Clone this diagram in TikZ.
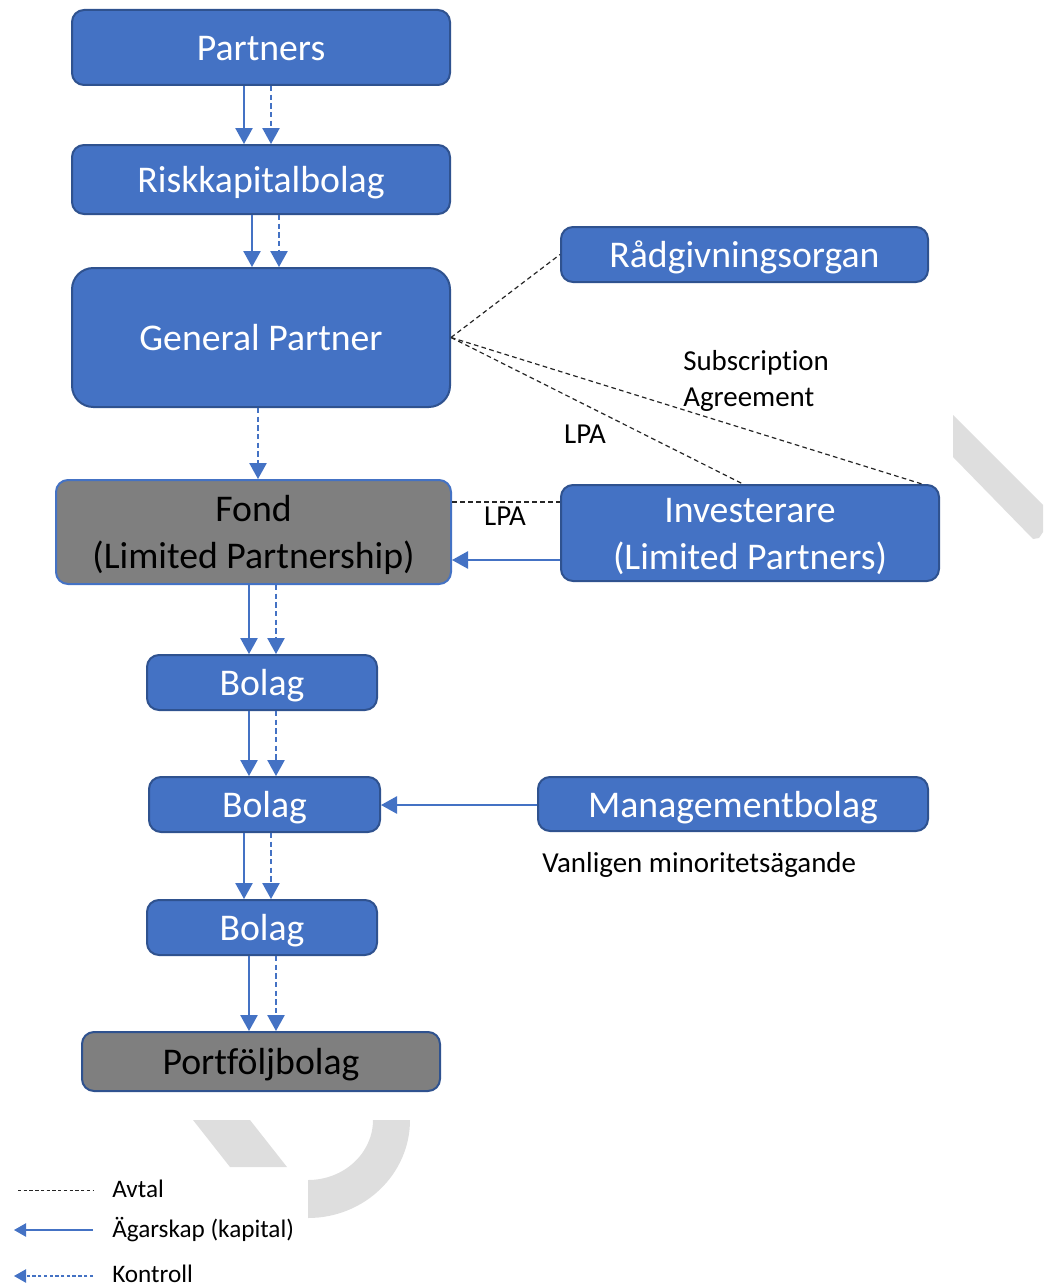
\documentclass[tikz,border=0pt]{standalone}
\usepackage{fontspec}
\setmainfont{Carlito}[Ligatures=NoCommon]
\usetikzlibrary{arrows.meta}
\definecolor{blu}{HTML}{4472C4}
\definecolor{bdr}{HTML}{2F528F}
\definecolor{gry}{HTML}{7F7F7F}
\definecolor{wm}{HTML}{DEDEDE}
\newcommand\bigf{\fontsize{28.3}{35}\selectfont}
\newcommand\lblf{\fontsize{21.7}{27}\selectfont}
\newcommand\legf{\fontsize{18.9}{22}\selectfont}
\newcommand\topln{\rule[-8pt]{0pt}{34.5pt}}
\newcommand\botln{\rule[-7pt]{0pt}{26pt}}
\tikzset{
  bx/.style={draw=bdr, fill=blu, line width=1.5pt, rounded corners=9pt, text=white, font=\bigf, align=center, inner sep=0pt},
  sl/.style={text height=27pt, text depth=7pt},
  gbx/.style={bx, fill=gry, text=black},
  own/.style={draw=blu, line width=1.1pt, -{Triangle[width=13pt,length=12pt]}},
  ctrl/.style={own, dash pattern=on 4pt off 2.5pt},
  avt/.style={draw=black!85, line width=0.9pt, dash pattern=on 3.5pt off 2.5pt},
  lbl/.style={font=\lblf, inner sep=0pt, anchor=west, align=left},
  leg/.style={font=\legf, inner sep=0pt, anchor=west}
}
\begin{document}
\begin{tikzpicture}[x=0.75pt,y=-0.75pt]
\useasboundingbox (0,0) rectangle (1043,1288);
% watermark shapes
\fill[wm] (953,415) -- (1043,505) -- (1043,532) -- (1039,538) -- (1033,539) -- (953,457) -- cycle;
\fill[wm] (193,1120) -- (250,1120) -- (287,1167) -- (230,1167) -- cycle;
\fill[wm] (410,1120) arc[start angle=0,end angle=-90,x radius=102,y radius=-98] -- (308,1180) arc[start angle=-90,end angle=0,x radius=65,y radius=-60] -- cycle;

% boxes
\node[bx, sl, minimum width=283.5pt, minimum height=56.25pt] (P) at (261,47.5) {Partners};
\node[bx, sl, minimum width=283.5pt, minimum height=51.75pt] (R) at (261,179.5) {Riskkapitalbolag};
\node[bx, sl, rounded corners=16pt, minimum width=283.5pt, minimum height=104.25pt] (GP) at (261,337.5) {General Partner};
\node[bx, sl, minimum width=275.25pt, minimum height=41.25pt] (RG) at (744.5,254.5) {Rådgivningsorgan};
\node[gbx, draw=blu, minimum width=296.25pt, minimum height=78pt] (F) at (253.5,532) {\topln Fond\\\botln(Limited Partnership)};
\node[bx, minimum width=283.5pt, minimum height=72pt] (I) at (750,533) {\topln Investerare\\\botln(Limited Partners)};
\node[bx, sl, minimum width=172.5pt, minimum height=41.25pt] (B1) at (262,682.5) {Bolag};
\node[bx, sl, minimum width=173.25pt, minimum height=41.25pt] (B2) at (264.5,804.5) {Bolag};
\node[bx, sl, minimum width=292.5pt, minimum height=40.5pt] (M) at (733,804) {Managementbolag};
\node[bx, sl, minimum width=172.5pt, minimum height=41.25pt] (B3) at (262,927.5) {Bolag};
\node[gbx, sl, minimum width=268.5pt, minimum height=44.25pt] (PF) at (261,1061.5) {Portföljbolag};

% columns and rows
\coordinate (ca) at (244,0);
\coordinate (cb) at (271,0);
\coordinate (cc) at (252,0);
\coordinate (cd) at (279,0);
\coordinate (ce) at (258,0);
\coordinate (cf) at (249,0);
\coordinate (cg) at (276,0);
\coordinate (c1) at (743,0);
\coordinate (c2) at (922,0);
\coordinate (r1) at (0,560);
\coordinate (r2) at (0,805);
\coordinate (r3) at (0,502);

% vertical arrows
\draw[own] (P.south -| ca) -- (R.north -| ca);
\draw[ctrl] (P.south -| cb) -- (R.north -| cb);
\draw[own] (R.south -| cc) -- (GP.north -| cc);
\draw[ctrl] (R.south -| cd) -- (GP.north -| cd);
\draw[ctrl] (GP.south -| ce) -- (F.north -| ce);
\draw[own] (F.south -| cf) -- (B1.north -| cf);
\draw[ctrl] (F.south -| cg) -- (B1.north -| cg);
\draw[own] (B1.south -| cf) -- (B2.north -| cf);
\draw[ctrl] (B1.south -| cg) -- (B2.north -| cg);
\draw[own] (B2.south -| ca) -- (B3.north -| ca);
\draw[ctrl] (B2.south -| cb) -- (B3.north -| cb);
\draw[own] (B3.south -| cf) -- (PF.north -| cf);
\draw[ctrl] (B3.south -| cg) -- (PF.north -| cg);

% horizontal arrows
\draw[own] (I.west |- r1) -- (F.east |- r1);
\draw[own] (M.west |- r2) -- (B2.east |- r2);

% agreements
\draw[avt] (GP.east) -- (RG.west);
\draw[avt] (GP.east) -- (I.north -| c1);
\draw[avt] (GP.east) -- (I.north -| c2);
\draw[avt] (F.east |- r3) -- (I.west |- r3);

% labels
\node[lbl] (sa) at (683,381) {Subscription\\Agreement};
\node[font=\lblf, inner sep=0pt] (lpa1) at (585,434) {LPA};
\node[font=\lblf, inner sep=0pt] (lpa2) at (505,516) {LPA};
\node[lbl] (vm) at (542,865) {Vanligen minoritetsägande};

% legend
\coordinate (l1a) at (18,1190);
\coordinate (l1b) at (93,1190);
\coordinate (l2a) at (93,1230);
\coordinate (l2b) at (14,1230);
\coordinate (l3a) at (93,1276);
\coordinate (l3b) at (14,1276);
\draw[avt, line width=0.7pt, dash pattern=on 2.5pt off 1.8pt] (l1a) -- (l1b);
\draw[own, line width=0.9pt, -{Triangle[width=10pt,length=9pt]}] (l2a) -- (l2b);
\draw[ctrl, line width=0.9pt, dash pattern=on 2.5pt off 1.8pt, -{Triangle[width=10pt,length=9pt]}] (l3a) -- (l3b);
\node[leg] (t1) at (112,1189) {Avtal};
\node[leg] (t2) at (112,1230) {Ägarskap (kapital)};
\node[leg] (t3) at (112,1274) {Kontroll};
\end{tikzpicture}
\end{document}
